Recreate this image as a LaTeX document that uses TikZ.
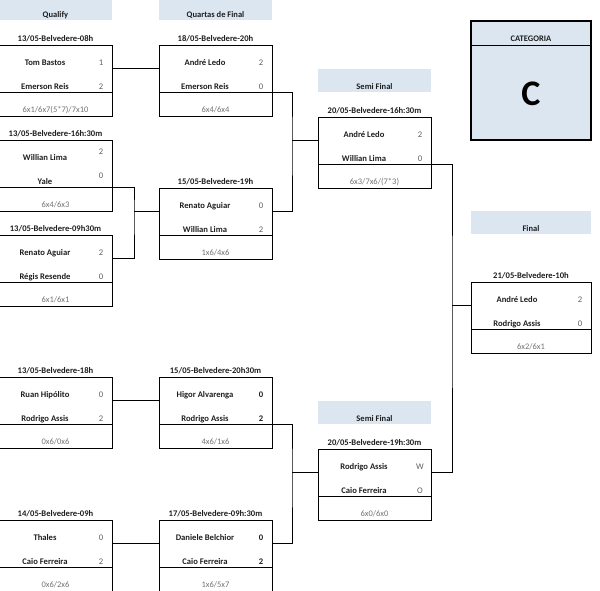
\documentclass[tikz,border=0pt]{standalone}
\usepackage{fontspec}
\setmainfont{Carlito}
\usetikzlibrary{calc}
\definecolor{hdrblue}{RGB}{220,230,241}
\definecolor{txt}{RGB}{30,30,30}
\definecolor{scoregray}{RGB}{95,95,95}
\definecolor{setsgray}{RGB}{115,115,115}
\newcommand{\sshift}{0}
\newcommand{\mymatch}[5]{% name, x, y, width, date
  \node[upperbox, minimum width=#4pt] (#1) at (#2,#3) {};
  \node[lowerbox, minimum width=#4pt] (#1-b) at (#1.south west) {};
  \node[datelbl] (#1-d) at ($(#1.north)+(0,-6)$) {#5};
}
\newcommand{\myplayers}[6]{% name, p1, s1, p2, s2, sets
  \node[pname] (#1-p1) at ($(#1.north west)+(46,18)$) {#2};
  \node[pscore] (#1-s1) at ($(#1.north east)+(-11,18+\sshift)$) {#3};
  \node[pname] (#1-p2) at ($(#1.north west)+(46,42)$) {#4};
  \node[pscore] (#1-s2) at ($(#1.north east)+(-11,42+\sshift)$) {#5};
  \node[psets] (#1-t) at ($(#1-b.center)+(0,6)$) {#6};
}
\newcommand{\myheader}[5]{% name, x, y, width, text
  \node[hdrbox, minimum width=#4pt] (#1) at (#2,#3) {};
  \node[hdrlbl] (#1-l) at ($(#1.south)+(0,-5)$) {#5};
}
\tikzset{
  ln/.style={draw=black, line width=0.8pt},
  upperbox/.style={draw=black, line width=0.8pt, minimum height=47pt, inner sep=0pt, outer sep=0pt, anchor=north west},
  lowerbox/.style={draw=black, line width=0.8pt, minimum height=24pt, inner sep=0pt, outer sep=0pt, anchor=north west},
  hdrbox/.style={fill=hdrblue, minimum height=23pt, inner sep=0pt, outer sep=0pt, anchor=north west},
  hdrlbl/.style={font=\fontsize{8.5}{10}\selectfont\bfseries, text=txt, anchor=mid, inner sep=0pt},
  datelbl/.style={font=\fontsize{8.6}{10}\selectfont\bfseries, text=txt, anchor=mid, inner sep=0pt},
  pname/.style={font=\fontsize{8.6}{10}\selectfont\bfseries, text=txt, anchor=mid, inner sep=0pt},
  pscore/.style={font=\fontsize{8.6}{10}\selectfont, text=scoregray, anchor=mid, inner sep=0pt},
  psets/.style={font=\fontsize{8.5}{10}\selectfont, text=setsgray, anchor=mid, inner sep=0pt},
}
\begin{document}
\begin{tikzpicture}[x=1pt,y=-1pt]
\useasboundingbox (0,0) rectangle (600,591);
% headers
\myheader{hq}{-1}{-3}{113}{Qualify}
\myheader{hqf}{159}{-3}{113}{Quartas de Final}
\myheader{hs1}{318}{69}{113}{Semi Final}
\myheader{hs2}{318}{401}{113}{Semi Final}
\myheader{hf}{471}{211}{120}{Final}
% category
\node[fill=hdrblue, minimum width=120pt, minimum height=24pt, inner sep=0pt, outer sep=0pt, anchor=north west] (cat) at (471,21) {};
\node[fill=hdrblue, minimum width=120pt, minimum height=95pt, inner sep=0pt, outer sep=0pt, anchor=north west] (catb) at (cat.south west) {};
\draw[line width=0.8pt] (cat.south west) -- (cat.south east);
\draw[line width=1.6pt] (cat.north west) rectangle (catb.south east);
\node[font=\fontsize{8.5}{10}\selectfont\bfseries, text=txt, anchor=mid, inner sep=0pt] (cat-l) at ($(cat.south)+(0,-6)$) {CATEGORIA};
\node[font=\fontsize{36}{40}\selectfont\bfseries, text=black, inner sep=0pt] (cat-c) at ($(catb.center)+(0,1)$) {C};
% qualify
\mymatch{Q1}{-1}{45}{113}{13/05-Belvedere-08h}
\myplayers{Q1}{Tom Bastos}{1}{Emerson Reis}{2}{6x1/6x7(5*7)/7x10}
\mymatch{Q2}{-1}{140}{113}{13/05-Belvedere-16h:30m}
\renewcommand{\sshift}{-6}
\myplayers{Q2}{Willian Lima}{2}{Yale}{0}{6x4/6x3}
\renewcommand{\sshift}{0}
\mymatch{Q3}{-1}{235}{113}{13/05-Belvedere-09h30m}
\myplayers{Q3}{Renato Aguiar}{2}{Régis Resende}{0}{6x1/6x1}
\mymatch{Q4}{-1}{377}{113}{13/05-Belvedere-18h}
\myplayers{Q4}{Ruan Hipólito}{0}{Rodrigo Assis}{2}{0x6/0x6}
\mymatch{Q5}{-1}{520}{113}{14/05-Belvedere-09h}
\myplayers{Q5}{Thales}{0}{Caio Ferreira}{2}{0x6/2x6}
% quartas
\mymatch{QF1}{159}{45}{113}{18/05-Belvedere-20h}
\myplayers{QF1}{André Ledo}{2}{Emerson Reis}{0}{6x4/6x4}
\mymatch{QF2}{159}{188}{113}{15/05-Belvedere-19h}
\myplayers{QF2}{Renato Aguiar}{0}{Willian Lima}{2}{1x6/4x6}
\mymatch{QF3}{159}{377}{113}{15/05-Belvedere-20h30m}
\myplayers{QF3}{Higor Alvarenga}{\textcolor{txt}{\bfseries 0}}{Rodrigo Assis}{\textcolor{txt}{\bfseries 2}}{4x6/1x6}
\mymatch{QF4}{159}{520}{113}{17/05-Belvedere-09h:30m}
\myplayers{QF4}{Daniele Belchior}{\textcolor{txt}{\bfseries 0}}{Caio Ferreira}{\textcolor{txt}{\bfseries 2}}{1x6/5x7}
% semis
\mymatch{S1}{318}{117}{113}{20/05-Belvedere-16h:30m}
\myplayers{S1}{André Ledo}{2}{Willian Lima}{0}{6x3/7x6/(7*3)}
\mymatch{S2}{318}{449}{113}{20/05-Belvedere-19h:30m}
\myplayers{S2}{Rodrigo Assis}{W}{Caio Ferreira}{O}{6x0/6x0}
% final
\mymatch{F}{471}{282}{120}{21/05-Belvedere-10h}
\myplayers{F}{André Ledo}{2}{Rodrigo Assis}{0}{6x2/6x1}
% junctions
\coordinate (j1) at ([xshift=22pt]Q2.east |- QF2.west);
\coordinate (j2) at ([xshift=20pt]QF1.east |- S1.west);
\coordinate (j3) at ([xshift=20pt]QF3.east |- S2.west);
\coordinate (j4) at ([xshift=21pt]S1.east |- F.west);
% connectors
\draw[ln] (Q1.east) -- (QF1.west);
\draw[ln] (Q2.south east) -| (j1) |- (Q3.east);
\draw[ln] (j1) -- (QF2.west);
\draw[ln] (QF1.south east) -| (j2) |- (QF2.east);
\draw[ln] (j2) -- (S1.west);
\draw[ln] (Q4.east) -- (QF3.west);
\draw[ln] (Q5.east) -- (QF4.west);
\draw[ln] (QF3.south east) -| (j3) |- (QF4.east);
\draw[ln] (j3) -- (S2.west);
\draw[ln] (S1.south east) -| (j4) |- (S2.east);
\draw[ln] (j4) -- (F.west);
\end{tikzpicture}
\end{document}
